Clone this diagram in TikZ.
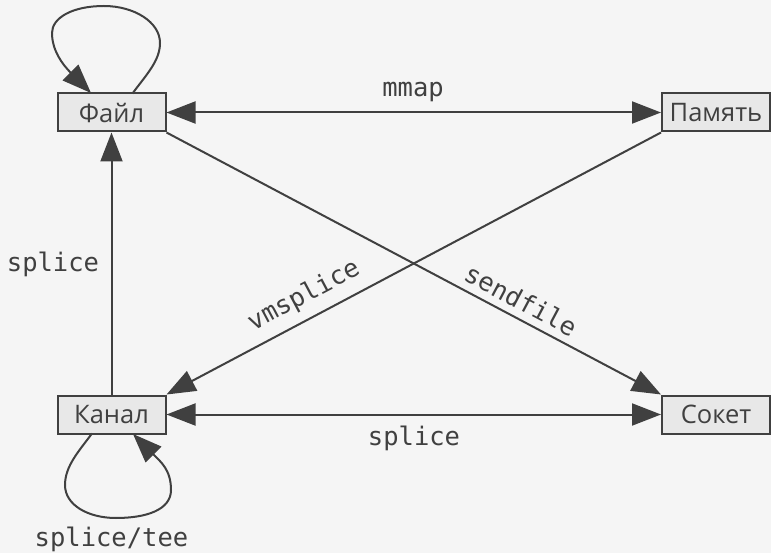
\documentclass[tikz,border=0pt]{standalone}
\usepackage{fontspec}
\setmainfont{Open Sans}
\setmonofont{DejaVu Sans Mono}
\usetikzlibrary{arrows.meta}
\definecolor{ink}{HTML}{404040}
\definecolor{bg}{HTML}{F5F5F5}
\definecolor{boxfill}{HTML}{E8E8E8}
\tikzset{
  obj/.style={draw=ink, fill=boxfill, line width=2pt, minimum width=108pt, minimum height=38pt, inner sep=0pt, text=ink, font=\fontsize{25.5}{30}\selectfont},
  lbl/.style={text=ink, inner sep=0pt, font=\fontsize{25.5}{30}\selectfont\ttfamily},
  conn/.style={draw=ink, line width=2pt},
  tip/.tip={Triangle[length=29pt,width=22pt]}
}
\begin{document}
\begin{tikzpicture}[x=1pt,y=-1pt]
\useasboundingbox (0,0) rectangle (771,553);
\fill[bg] (0,0) rectangle (771,553);
\node[obj] (file) at (111.5,112.5) {Файл};
\node[obj] (mem) at (716,112.5) {Память};
\node[obj] (pipe) at (111.5,414.5) {Канал};
\node[obj] (sock) at (716,414.5) {Сокет};
% file self-loop waypoints
\coordinate (fl1) at (132.5,93.5);
\coordinate (flr) at (160,43);
\coordinate (flt) at (104,6);
\coordinate (fll) at (52,33);
\coordinate (fl2) at (91,93);
% pipe self-loop waypoints
\coordinate (pl1) at (92,433.5);
\coordinate (pll) at (65,485);
\coordinate (plb) at (116,518);
\coordinate (plr) at (171,490);
\coordinate (pl2) at (133,434);
\draw[conn, tip-tip] (file.east) -- (mem.west);
\draw[conn, tip-tip] (pipe.east) -- (sock.west);
\draw[conn, -tip] (pipe.north) -- (file.south);
\draw[conn, -tip] (file.south east) -- (sock.north west);
\draw[conn, -tip] (mem.south west) -- (pipe.north east);
\draw[conn, -tip] (fl1) .. controls (146,75) and (160,61) .. (flr)
  .. controls (160,22) and (134,6) .. (flt)
  .. controls (72,6) and (52,18) .. (fll)
  .. controls (52,50) and (62,64) .. (fl2);
\draw[conn, -tip] (pl1) .. controls (79,451) and (65,466) .. (pll)
  .. controls (65,505) and (88,518) .. (plb)
  .. controls (146,518) and (171,510) .. (plr)
  .. controls (171,470) and (161,462) .. (pl2);
\node[lbl, anchor=base] (lmmap) at (413,97) {mmap};
\node[lbl, anchor=base] (lsplice1) at (53,272) {splice};
\node[lbl, anchor=base] (lsplice2) at (414,445) {splice};
\node[lbl, anchor=base] (ltee) at (111.5,546) {splice/tee};
\node[lbl, rotate=28] (lvm) at (304,296) {vmsplice};
\node[lbl, rotate=-28] (lsend) at (521,300) {sendfile};
\end{tikzpicture}
\end{document}
